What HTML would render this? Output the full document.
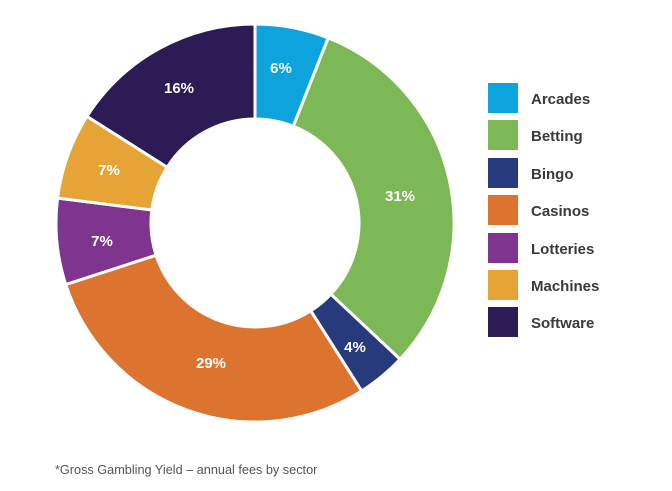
<!DOCTYPE html>
<html><head><meta charset="utf-8"><style>
html,body{margin:0;padding:0;background:#fff;}
body{width:672px;height:491px;overflow:hidden;font-family:"Liberation Sans",sans-serif;}
</style></head><body>
<svg id="s" width="672" height="491" xmlns="http://www.w3.org/2000/svg" style="position:absolute;left:0;top:0">
<g id="pie"></g>
<g font-family="Liberation Sans, sans-serif" font-size="15" fill="#fff" text-anchor="middle" font-weight="bold">
<text x="281" y="73">6%</text>
<text x="400" y="201">31%</text>
<text x="355" y="352">4%</text>
<text x="211" y="368">29%</text>
<text x="102" y="246">7%</text>
<text x="109" y="175">7%</text>
<text x="179" y="93">16%</text>
</g>
<g font-family="Liberation Sans, sans-serif" font-size="15" fill="#3a3a3a" font-weight="bold">
<rect x="488" y="83" width="30" height="30" fill="#0da3dc"/><text x="531" y="104">Arcades</text>
<rect x="488" y="120" width="30" height="30" fill="#7db856"/><text x="531" y="141">Betting</text>
<rect x="488" y="158" width="30" height="30" fill="#263a7c"/><text x="531" y="179">Bingo</text>
<rect x="488" y="195" width="30" height="30" fill="#dc7430"/><text x="531" y="216">Casinos</text>
<rect x="488" y="233" width="30" height="30" fill="#7f3590"/><text x="531" y="254">Lotteries</text>
<rect x="488" y="270" width="30" height="30" fill="#e6a436"/><text x="531" y="291">Machines</text>
<rect x="488" y="307" width="30" height="30" fill="#2c1b55"/><text x="531" y="328">Software</text>
</g>
<text x="55" y="474" font-family="Liberation Sans, sans-serif" font-size="12.7" fill="#555">*Gross Gambling Yield – annual fees by sector</text>
</svg>
<script>
var d=[[6,"#0da3dc"],[31,"#7db856"],[4,"#263a7c"],[29,"#dc7430"],[7,"#7f3590"],[7,"#e6a436"],[16,"#2c1b55"]];
var cx=255,cy=223,R=199,r=104,a=0,g=document.getElementById("pie"),h="";
function p(rad,ang){return [cx+rad*Math.sin(ang),cy-rad*Math.cos(ang)];}
d.forEach(function(x){var a0=a*2*Math.PI/100,a1=(a+x[0])*2*Math.PI/100;a+=x[0];
var L=(a1-a0)>Math.PI?1:0,o0=p(R,a0),o1=p(R,a1),i1=p(r,a1),i0=p(r,a0);
h+='<path d="M'+o0+' A'+R+' '+R+' 0 '+L+' 1 '+o1+' L'+i1+' A'+r+' '+r+' 0 '+L+' 0 '+i0+'Z" fill="'+x[1]+'" stroke="#fff" stroke-width="3" stroke-linejoin="miter"/>';});
g.innerHTML=h;
</script>
</body></html>
